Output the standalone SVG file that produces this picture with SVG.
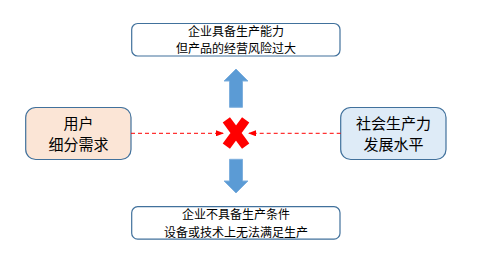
<svg xmlns="http://www.w3.org/2000/svg" width="478" height="264" viewBox="0 0 478 264">
<style>
.box{stroke:#41719c;stroke-width:1.2}
.t{font-family:"Noto Sans CJK SC","Liberation Sans",sans-serif;fill:#000;text-anchor:middle}
.s{font-size:12px}
.l{font-size:15px}
.arr{fill:#5b9bd5;stroke:#7fb0de;stroke-width:1}
.dash{stroke:#ff0000;stroke-width:1;stroke-dasharray:4,3;fill:none}
</style>
<defs>
<marker id="ah" markerWidth="8" markerHeight="6" refX="7" refY="3" orient="auto" markerUnits="userSpaceOnUse">
<path d="M0,0 L8,3 L0,6 Z" fill="#ff0000"/>
</marker>
</defs>
<rect width="478" height="264" fill="#fff"/>
<g id="top">
<rect class="box" x="131.7" y="23.5" width="208.3" height="32.5" rx="6" fill="#fff"/>
<text class="t s" x="236" y="35.8">企业具备生产能力</text>
<text class="t s" x="236" y="53.3">但产品的经营风险过大</text>
</g>
<g id="bottom">
<rect class="box" x="131.7" y="206.7" width="208.3" height="32.5" rx="6" fill="#fff"/>
<text class="t s" x="236" y="219">企业不具备生产条件</text>
<text class="t s" x="236" y="236.5">设备或技术上无法满足生产</text>
</g>
<g id="left">
<rect class="box" x="25.7" y="107.5" width="105.3" height="52" rx="10" fill="#fbe5d6"/>
<text class="t l" x="78.5" y="128.5">用户</text>
<text class="t l" x="78.5" y="150">细分需求</text>
</g>
<g id="right">
<rect class="box" x="340.7" y="107.5" width="105.3" height="52" rx="10" fill="#deebf7"/>
<text class="t l" x="393.5" y="128.5">社会生产力</text>
<text class="t l" x="393.5" y="150">发展水平</text>
</g>
<g id="cross">
<path d="M229,123.5 L243,142.5 M243,123.5 L229,142.5" stroke="#ff0000" stroke-width="9" stroke-linecap="square"/>
</g>
<g id="connectors">
<path class="arr" d="M229.5,107.3 L229.5,81 L224,81 L236,69 L248,81 L242.5,81 L242.5,107.3 Z"/>
<path class="arr" d="M229.5,159.3 L229.5,181 L224,181 L236,193 L248,181 L242.5,181 L242.5,159.3 Z"/>
<line class="dash" x1="131" y1="133.3" x2="223" y2="133.3" marker-end="url(#ah)"/>
<line class="dash" x1="340.7" y1="133.3" x2="249" y2="133.3" marker-end="url(#ah)"/>
</g>
</svg>
